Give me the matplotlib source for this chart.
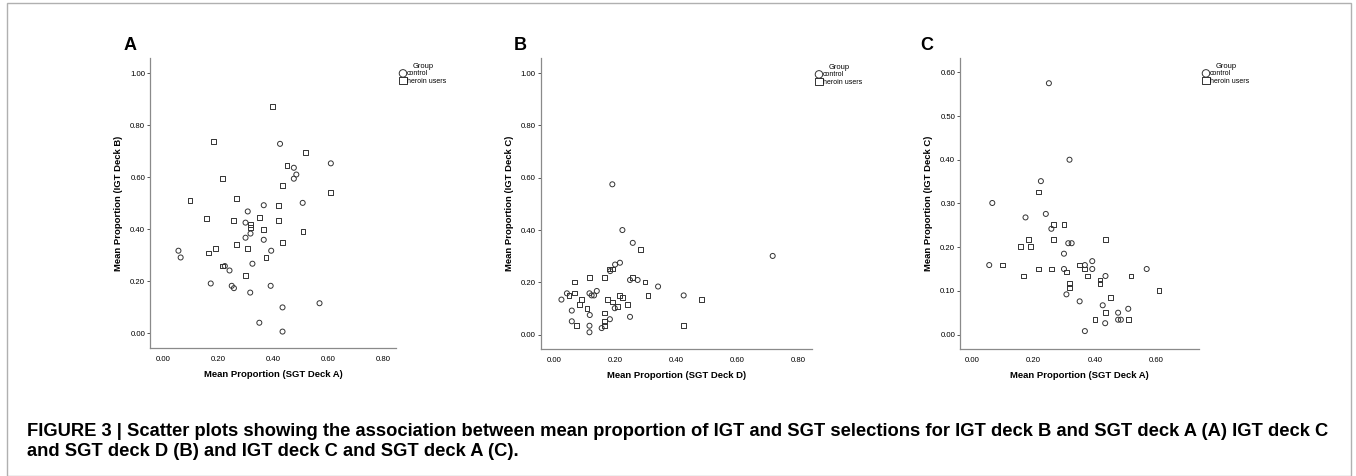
import matplotlib.pyplot as plt
from matplotlib.patches import Rectangle

W, H = 1356, 476

# panel A: SGT deck A (x) vs IGT deck B (y)
a_ctrl_x = [0.425, 0.475, 0.484, 0.475, 0.609, 0.366, 0.507, 0.308, 0.300, 0.318, 0.300, 0.366,
            0.057, 0.065, 0.393, 0.325, 0.225, 0.242, 0.174, 0.250, 0.258, 0.317, 0.391, 0.568,
            0.434, 0.350, 0.434]
a_ctrl_y = [0.729, 0.637, 0.611, 0.595, 0.654, 0.493, 0.502, 0.469, 0.426, 0.384, 0.368, 0.360,
            0.318, 0.292, 0.318, 0.268, 0.259, 0.242, 0.192, 0.183, 0.174, 0.157, 0.183, 0.116,
            0.100, 0.041, 0.007]
a_her_x = [0.399, 0.184, 0.518, 0.450, 0.216, 0.434, 0.609, 0.099, 0.266, 0.418, 0.158, 0.257,
           0.350, 0.418, 0.318, 0.318, 0.366, 0.508, 0.266, 0.434, 0.165, 0.191, 0.308, 0.374,
           0.216, 0.300]
a_her_y = [0.872, 0.737, 0.695, 0.645, 0.595, 0.569, 0.543, 0.510, 0.519, 0.493, 0.443, 0.434,
           0.445, 0.434, 0.419, 0.408, 0.401, 0.393, 0.343, 0.351, 0.309, 0.326, 0.326, 0.292,
           0.259, 0.224]

# panel B: SGT deck D (x) vs IGT deck C (y)
b_ctrl_x = [0.191, 0.224, 0.258, 0.717, 0.216, 0.200, 0.184, 0.249, 0.274, 0.341, 0.425, 0.024,
            0.042, 0.116, 0.140, 0.123, 0.131, 0.058, 0.117, 0.199, 0.058, 0.183, 0.249, 0.116,
            0.156, 0.116]
b_ctrl_y = [0.575, 0.400, 0.351, 0.301, 0.275, 0.268, 0.243, 0.209, 0.209, 0.184, 0.150, 0.134,
            0.158, 0.158, 0.167, 0.150, 0.150, 0.092, 0.075, 0.101, 0.051, 0.059, 0.068, 0.034,
            0.025, 0.009]
b_her_x = [0.283, 0.181, 0.191, 0.066, 0.116, 0.166, 0.258, 0.298, 0.066, 0.049, 0.091, 0.083,
           0.108, 0.175, 0.191, 0.215, 0.224, 0.208, 0.240, 0.308, 0.483, 0.166, 0.166, 0.166,
           0.074, 0.424]
b_her_y = [0.326, 0.251, 0.251, 0.201, 0.218, 0.218, 0.218, 0.201, 0.159, 0.149, 0.134, 0.116,
           0.101, 0.134, 0.125, 0.150, 0.141, 0.108, 0.116, 0.150, 0.134, 0.083, 0.051, 0.034,
           0.034, 0.034]

# panel C: SGT deck A (x) vs IGT deck C (y)
c_ctrl_x = [0.250, 0.317, 0.224, 0.066, 0.240, 0.174, 0.258, 0.313, 0.324, 0.299, 0.056, 0.391,
            0.391, 0.299, 0.367, 0.434, 0.568, 0.307, 0.350, 0.425, 0.475, 0.508, 0.475, 0.484,
            0.433, 0.367]
c_ctrl_y = [0.575, 0.400, 0.351, 0.301, 0.276, 0.268, 0.242, 0.209, 0.209, 0.185, 0.159, 0.168,
            0.150, 0.150, 0.159, 0.134, 0.150, 0.092, 0.076, 0.067, 0.050, 0.059, 0.034, 0.034,
            0.026, 0.008]
c_her_x = [0.217, 0.266, 0.299, 0.183, 0.266, 0.433, 0.158, 0.191, 0.100, 0.350, 0.366, 0.217,
           0.258, 0.308, 0.167, 0.375, 0.517, 0.416, 0.416, 0.316, 0.316, 0.608, 0.449, 0.433,
           0.400, 0.508]
c_her_y = [0.326, 0.251, 0.251, 0.217, 0.217, 0.217, 0.201, 0.201, 0.159, 0.159, 0.150, 0.150,
           0.150, 0.143, 0.134, 0.134, 0.134, 0.125, 0.117, 0.117, 0.108, 0.101, 0.085, 0.050,
           0.034, 0.034]

caption = ["FIGURE 3 | Scatter plots showing the association between mean proportion of IGT and SGT "
           "selections for IGT deck B and SGT deck A (A) IGT deck C",
           "and SGT deck D (B) and IGT deck C and SGT deck A (C)."]

plt.rcParams["font.family"] = ["Liberation Sans", "DejaVu Sans"]

fig = plt.figure(figsize=(W / 100, H / 100), dpi=100)

panels = [
    dict(letter="A", box=(150, 347.7, 396, 58.3), xlim=(-0.046, 0.845), ylim=(-0.055, 1.058),
         xt=[0, 0.2, 0.4, 0.6, 0.8], yt=[0, 0.2, 0.4, 0.6, 0.8, 1.0],
         xl="Mean Proportion (SGT Deck A)", yl="Mean Proportion (IGT Deck B)", ylx=123,
         ctrl=(a_ctrl_x, a_ctrl_y), her=(a_her_x, a_her_y), leg=(395, 58), lx=124),
    dict(letter="B", box=(540.7, 349, 811.7, 58.3), xlim=(-0.044, 0.845), ylim=(-0.055, 1.057),
         xt=[0, 0.2, 0.4, 0.6, 0.8], yt=[0, 0.2, 0.4, 0.6, 0.8, 1.0],
         xl="Mean Proportion (SGT Deck D)", yl="Mean Proportion (IGT Deck C)", ylx=514,
         ctrl=(b_ctrl_x, b_ctrl_y), her=(b_her_x, b_her_y), leg=(811, 59), lx=514),
    dict(letter="C", box=(960, 349, 1199.3, 58.3), xlim=(-0.039, 0.739), ylim=(-0.033, 0.632),
         xt=[0, 0.2, 0.4, 0.6], yt=[0, 0.1, 0.2, 0.3, 0.4, 0.5, 0.6],
         xl="Mean Proportion (SGT Deck A)", yl="Mean Proportion (IGT Deck C)", ylx=933,
         ctrl=(c_ctrl_x, c_ctrl_y), her=(c_her_x, c_her_y), leg=(1198, 58), lx=920),
]

for p in panels:
    l, b, r, t = p["box"]
    ax = fig.add_axes([l / W, 1 - b / H, (r - l) / W, (b - t) / H])
    ax.scatter(*p["ctrl"], marker="o", s=13, facecolors="none", edgecolors="#333333",
               linewidths=0.7, label="control")
    ax.scatter(*p["her"], marker="s", s=12, facecolors="none", edgecolors="#333333",
               linewidths=0.7, label="heroin users")
    ax.set_xlim(*p["xlim"])
    ax.set_ylim(*p["ylim"])
    ax.set_xticks(p["xt"])
    ax.set_yticks(p["yt"])
    ax.set_xticklabels([f"{v:.2f}" for v in p["xt"]])
    ax.set_yticklabels([f"{v:.2f}" for v in p["yt"]])
    for s in ["top", "right"]:
        ax.spines[s].set_visible(False)
    for s in ["left", "bottom"]:
        ax.spines[s].set_color("#8a8a8a")
        ax.spines[s].set_linewidth(0.9)
    ax.tick_params(axis="y", length=2.5, width=0.7, color="#555555", labelsize=5.6, pad=1)
    ax.tick_params(axis="x", length=0, labelsize=5.6, pad=6)
    ax.set_xlabel(p["xl"], fontsize=6.8, fontweight="bold", labelpad=5)
    ax.set_ylabel(p["yl"], fontsize=6.8, fontweight="bold")
    ax.yaxis.set_label_coords((p["ylx"] - l) / (r - l), 0.5)
    ax.legend(loc="upper left", bbox_to_anchor=(p["leg"][0] / W, 1 - p["leg"][1] / H),
              bbox_transform=fig.transFigure, frameon=False, title="Group",
              fontsize=5, title_fontsize=5.4, handletextpad=0.15, borderpad=0.2,
              labelspacing=0.05, handlelength=0.9, markerscale=1.5)
    fig.text(p["lx"] / W, 1 - 45 / H, p["letter"], fontsize=13, fontweight="bold",
             va="center", ha="left")

fig.text(27 / W, 1 - 436 / H, caption[0], fontsize=13.2, fontweight="bold",
         va="baseline", ha="left")
fig.text(27 / W, 1 - 456 / H, caption[1], fontsize=13.2, fontweight="bold",
         va="baseline", ha="left")

fig.patches.append(Rectangle((7 / W, 0.5 / H), 1344 / W, 473 / H, transform=fig.transFigure,
                             fill=False, edgecolor="#b0b0b0", linewidth=1))

fig.savefig("out.png", dpi=100)
